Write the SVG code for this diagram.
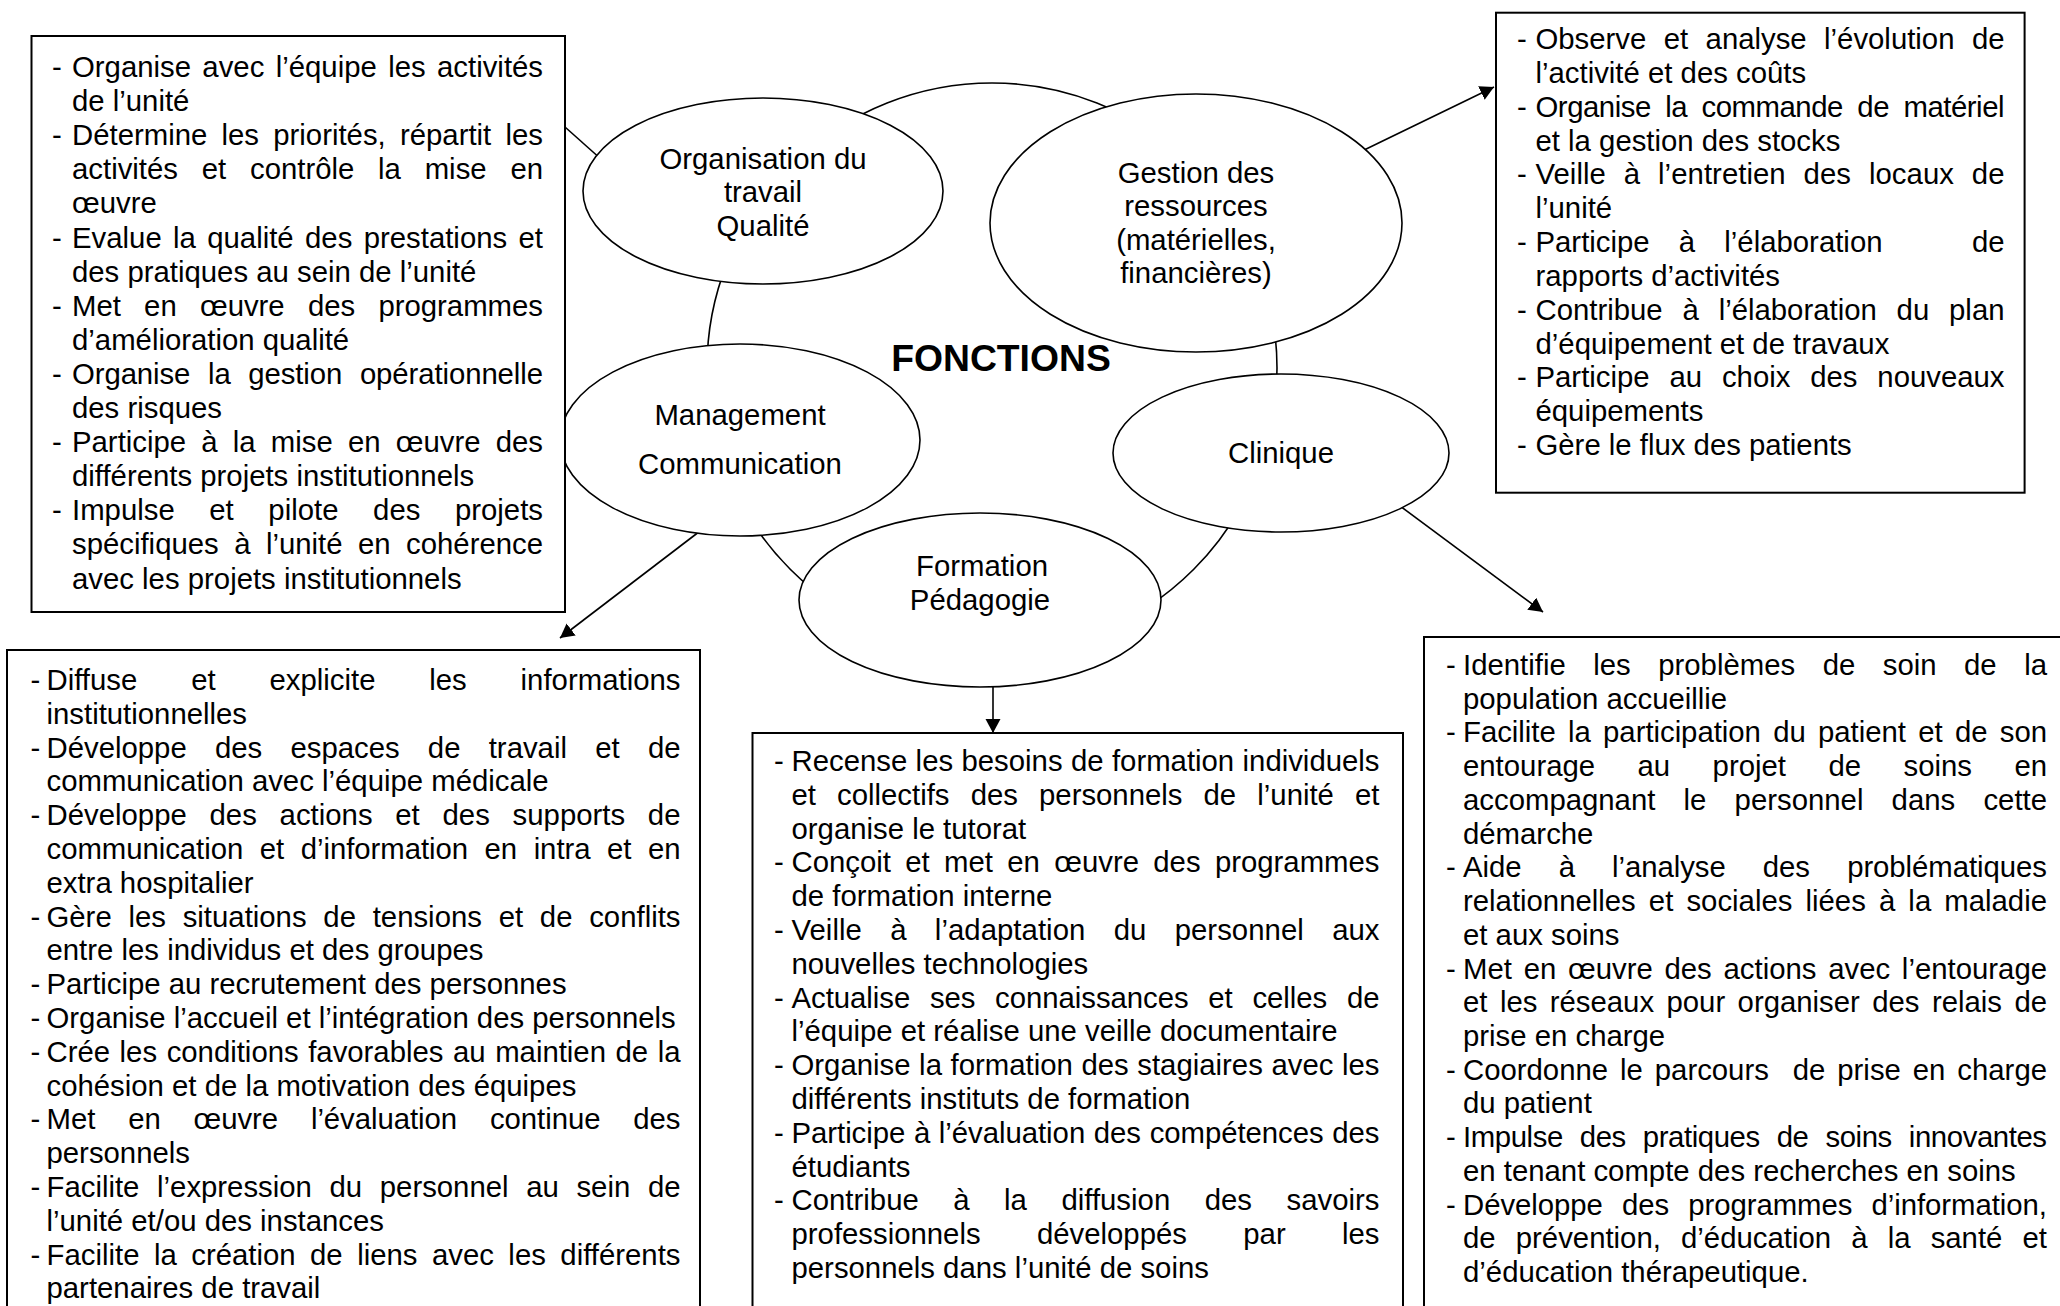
<svg xmlns="http://www.w3.org/2000/svg" width="2060" height="1306" viewBox="0 0 2060 1306">
<defs>
<style>
.t{font-family:"Liberation Sans",Arial,sans-serif;font-size:29.33px;fill:#000}
.m{text-anchor:middle}
.e{text-anchor:end}
.f{font-family:"Liberation Sans",Arial,sans-serif;font-weight:bold;font-size:37.3px;fill:#000;text-anchor:middle}
.box{fill:#fff;stroke:#000;stroke-width:2}
.ell{fill:#fff;stroke:#000;stroke-width:1.6}
.con{stroke:#000;stroke-width:1.6;fill:none}
</style>
<marker id="ah" markerUnits="userSpaceOnUse" markerWidth="16" markerHeight="16" refX="14" refY="7.5" orient="auto">
<path d="M0,0 L14,7.5 L0,15 z" fill="#000"/>
</marker>
</defs>
<rect width="2060" height="1306" fill="#fff"/>
<g id="fonctions">
<circle cx="992" cy="368" r="285" class="con"/>
<text class="f" x="1001" y="371">FONCTIONS</text>
</g>
<g id="connectors">
<line class="con" x1="565" y1="127" x2="602" y2="160"/>
<line class="con" x1="1360" y1="152" x2="1494" y2="87" marker-end="url(#ah)"/>
<line class="con" x1="704" y1="528" x2="560" y2="638" marker-end="url(#ah)"/>
<line class="con" x1="993" y1="680" x2="993" y2="733" marker-end="url(#ah)"/>
<line class="con" x1="1396" y1="503" x2="1543" y2="612" marker-end="url(#ah)"/>
</g>
<g id="node-organisation">
<ellipse class="ell" cx="763" cy="191" rx="180" ry="93"/>
<text class="t m" x="763" y="169">Organisation du</text>
<text class="t m" x="763" y="202">travail</text>
<text class="t m" x="763" y="236">Qualité</text>
</g>
<g id="node-gestion">
<ellipse class="ell" cx="1196" cy="223" rx="206" ry="129"/>
<text class="t m" x="1196" y="183">Gestion des</text>
<text class="t m" x="1196" y="216">ressources</text>
<text class="t m" x="1196" y="250">(matérielles,</text>
<text class="t m" x="1196" y="283">financières)</text>
</g>
<g id="node-management">
<ellipse class="ell" cx="740" cy="440" rx="180" ry="96"/>
<text class="t m" x="740" y="425">Management</text>
<text class="t m" x="740" y="474">Communication</text>
</g>
<g id="node-clinique">
<ellipse class="ell" cx="1281" cy="453" rx="168" ry="79"/>
<text class="t m" x="1281" y="463">Clinique</text>
</g>
<g id="node-formation">
<ellipse class="ell" cx="980" cy="600" rx="181" ry="87"/>
<text class="t m" x="982" y="576">Formation</text>
<text class="t m" x="980" y="610">Pédagogie</text>
</g>
<g id="box-organisation">
<rect class="box" x="31.5" y="36" width="533.5" height="576"/>
<text class="t" x="52" y="77">-</text>
<text class="t" x="72" y="77" textLength="471" lengthAdjust="spacing" word-spacing="3.25">Organise avec l’équipe les activités</text>
<text class="t" x="72" y="111.1">de l’unité</text>
<text class="t" x="52" y="145.2">-</text>
<text class="t" x="72" y="145.2" textLength="471" lengthAdjust="spacing" word-spacing="6.1">Détermine les priorités, répartit les</text>
<text class="t" x="72" y="179.3" textLength="471" lengthAdjust="spacing" word-spacing="15.6">activités et contrôle la mise en</text>
<text class="t" x="72" y="213.4">œuvre</text>
<text class="t" x="52" y="247.5">-</text>
<text class="t" x="72" y="247.5" textLength="471" lengthAdjust="spacing" word-spacing="3.2">Evalue la qualité des prestations et</text>
<text class="t" x="72" y="281.6">des pratiques au sein de l’unité</text>
<text class="t" x="52" y="315.7">-</text>
<text class="t" x="72" y="315.7" textLength="471" lengthAdjust="spacing" word-spacing="15.1">Met en œuvre des programmes</text>
<text class="t" x="72" y="349.8">d’amélioration qualité</text>
<text class="t" x="52" y="383.9">-</text>
<text class="t" x="72" y="383.9" textLength="471" lengthAdjust="spacing" word-spacing="9.6">Organise la gestion opérationnelle</text>
<text class="t" x="72" y="418">des risques</text>
<text class="t" x="52" y="452.1">-</text>
<text class="t" x="72" y="452.1" textLength="471" lengthAdjust="spacing" word-spacing="7.05">Participe à la mise en œuvre des</text>
<text class="t" x="72" y="486.2">différents projets institutionnels</text>
<text class="t" x="52" y="520.3">-</text>
<text class="t" x="72" y="520.3" textLength="471" lengthAdjust="spacing" word-spacing="26.45">Impulse et pilote des projets</text>
<text class="t" x="72" y="554.4" textLength="471" lengthAdjust="spacing" word-spacing="7.3">spécifiques à l’unité en cohérence</text>
<text class="t" x="72" y="588.5">avec les projets institutionnels</text>
</g>
<g id="box-gestion">
<rect class="box" x="1496" y="12.7" width="528.6" height="480"/>
<text class="t" x="1517" y="49">-</text>
<text class="t" x="1535.5" y="49" textLength="469" lengthAdjust="spacing" word-spacing="9.25">Observe et analyse l’évolution de</text>
<text class="t" x="1535.5" y="82.8">l’activité et des coûts</text>
<text class="t" x="1517" y="116.7">-</text>
<text class="t" x="1535.5" y="116.7" textLength="469" lengthAdjust="spacing" word-spacing="6.8">Organise la commande de matériel</text>
<text class="t" x="1535.5" y="150.5">et la gestion des stocks</text>
<text class="t" x="1517" y="184.3">-</text>
<text class="t" x="1535.5" y="184.3" textLength="469" lengthAdjust="spacing" word-spacing="9.7">Veille à l’entretien des locaux de</text>
<text class="t" x="1535.5" y="218.2">l’unité</text>
<text class="t" x="1517" y="252">-</text>
<text class="t" x="1535.5" y="252" textLength="347" lengthAdjust="spacing" word-spacing="21">Participe à l’élaboration</text>
<text class="t e" x="2004.5" y="252">de</text>
<text class="t" x="1535.5" y="285.8">rapports d’activités</text>
<text class="t" x="1517" y="319.6">-</text>
<text class="t" x="1535.5" y="319.6" textLength="469" lengthAdjust="spacing" word-spacing="11.7">Contribue à l’élaboration du plan</text>
<text class="t" x="1535.5" y="353.5">d’équipement et de travaux</text>
<text class="t" x="1517" y="387.3">-</text>
<text class="t" x="1535.5" y="387.3" textLength="469" lengthAdjust="spacing" word-spacing="11.7">Participe au choix des nouveaux</text>
<text class="t" x="1535.5" y="421.1">équipements</text>
<text class="t" x="1517" y="455">-</text>
<text class="t" x="1535.5" y="455">Gère le flux des patients</text>
</g>
<g id="box-management">
<rect class="box" x="7" y="650" width="693" height="700"/>
<text class="t" x="30.5" y="690">-</text>
<text class="t" x="46.5" y="690" textLength="634" lengthAdjust="spacing" word-spacing="45.6">Diffuse et explicite les informations</text>
<text class="t" x="46.5" y="723.8">institutionnelles</text>
<text class="t" x="30.5" y="757.6">-</text>
<text class="t" x="46.5" y="757.6" textLength="634" lengthAdjust="spacing" word-spacing="20.1">Développe des espaces de travail et de</text>
<text class="t" x="46.5" y="791.4">communication avec l’équipe médicale</text>
<text class="t" x="30.5" y="825.2">-</text>
<text class="t" x="46.5" y="825.2" textLength="634" lengthAdjust="spacing" word-spacing="14.6">Développe des actions et des supports de</text>
<text class="t" x="46.5" y="859" textLength="634" lengthAdjust="spacing" word-spacing="8.4">communication et d’information en intra et en</text>
<text class="t" x="46.5" y="892.8">extra hospitalier</text>
<text class="t" x="30.5" y="926.6">-</text>
<text class="t" x="46.5" y="926.6" textLength="634" lengthAdjust="spacing" word-spacing="8.6">Gère les situations de tensions et de conflits</text>
<text class="t" x="46.5" y="960.4">entre les individus et des groupes</text>
<text class="t" x="30.5" y="994.2">-</text>
<text class="t" x="46.5" y="994.2">Participe au recrutement des personnes</text>
<text class="t" x="30.5" y="1028">-</text>
<text class="t" x="46.5" y="1028">Organise l’accueil et l’intégration des personnels</text>
<text class="t" x="30.5" y="1061.8">-</text>
<text class="t" x="46.5" y="1061.8" textLength="634" lengthAdjust="spacing" word-spacing="1.4">Crée les conditions favorables au maintien de la</text>
<text class="t" x="46.5" y="1095.6">cohésion et de la motivation des équipes</text>
<text class="t" x="30.5" y="1129.4">-</text>
<text class="t" x="46.5" y="1129.4" textLength="634" lengthAdjust="spacing" word-spacing="24.8">Met en œuvre l’évaluation continue des</text>
<text class="t" x="46.5" y="1163.2">personnels</text>
<text class="t" x="30.5" y="1197">-</text>
<text class="t" x="46.5" y="1197" textLength="634" lengthAdjust="spacing" word-spacing="9.5">Facilite l’expression du personnel au sein de</text>
<text class="t" x="46.5" y="1230.8">l’unité et/ou des instances</text>
<text class="t" x="30.5" y="1264.6">-</text>
<text class="t" x="46.5" y="1264.6" textLength="634" lengthAdjust="spacing" word-spacing="6.3">Facilite la création de liens avec les différents</text>
<text class="t" x="46.5" y="1298.4">partenaires de travail</text>
</g>
<g id="box-formation">
<rect class="box" x="752.5" y="733" width="650.5" height="620"/>
<text class="t" x="774" y="771">-</text>
<text class="t" x="791.5" y="771" textLength="588" lengthAdjust="spacing" word-spacing="0.24">Recense les besoins de formation individuels</text>
<text class="t" x="791.5" y="804.8" textLength="588" lengthAdjust="spacing" word-spacing="13">et collectifs des personnels de l’unité et</text>
<text class="t" x="791.5" y="838.6">organise le tutorat</text>
<text class="t" x="774" y="872.4">-</text>
<text class="t" x="791.5" y="872.4" textLength="588" lengthAdjust="spacing" word-spacing="6.2">Conçoit et met en œuvre des programmes</text>
<text class="t" x="791.5" y="906.2">de formation interne</text>
<text class="t" x="774" y="940">-</text>
<text class="t" x="791.5" y="940" textLength="588" lengthAdjust="spacing" word-spacing="20.1">Veille à l’adaptation du personnel aux</text>
<text class="t" x="791.5" y="973.8">nouvelles technologies</text>
<text class="t" x="774" y="1007.6">-</text>
<text class="t" x="791.5" y="1007.6" textLength="588" lengthAdjust="spacing" word-spacing="11.6">Actualise ses connaissances et celles de</text>
<text class="t" x="791.5" y="1041.4">l’équipe et réalise une veille documentaire</text>
<text class="t" x="774" y="1075.2">-</text>
<text class="t" x="791.5" y="1075.2" textLength="588" lengthAdjust="spacing" word-spacing="0.47">Organise la formation des stagiaires avec les</text>
<text class="t" x="791.5" y="1109">différents instituts de formation</text>
<text class="t" x="774" y="1142.8">-</text>
<text class="t" x="791.5" y="1142.8" textLength="588" lengthAdjust="spacing" word-spacing="0.56">Participe à l’évaluation des compétences des</text>
<text class="t" x="791.5" y="1176.6">étudiants</text>
<text class="t" x="774" y="1210.4">-</text>
<text class="t" x="791.5" y="1210.4" textLength="588" lengthAdjust="spacing" word-spacing="26.3">Contribue à la diffusion des savoirs</text>
<text class="t" x="791.5" y="1244.2" textLength="588" lengthAdjust="spacing" word-spacing="48.2">professionnels développés par les</text>
<text class="t" x="791.5" y="1278">personnels dans l’unité de soins</text>
</g>
<g id="box-clinique">
<rect class="box" x="1424" y="637" width="700" height="720"/>
<text class="t" x="1446" y="675">-</text>
<text class="t" x="1463" y="675" textLength="584" lengthAdjust="spacing" word-spacing="19.35">Identifie les problèmes de soin de la</text>
<text class="t" x="1463" y="708.7">population accueillie</text>
<text class="t" x="1446" y="742.4">-</text>
<text class="t" x="1463" y="742.4" textLength="584" lengthAdjust="spacing" word-spacing="4.2">Facilite la participation du patient et de son</text>
<text class="t" x="1463" y="776.2" textLength="584" lengthAdjust="spacing" word-spacing="34.3">entourage au projet de soins en</text>
<text class="t" x="1463" y="809.9" textLength="584" lengthAdjust="spacing" word-spacing="20.05">accompagnant le personnel dans cette</text>
<text class="t" x="1463" y="843.6">démarche</text>
<text class="t" x="1446" y="877.3">-</text>
<text class="t" x="1463" y="877.3" textLength="584" lengthAdjust="spacing" word-spacing="29.05">Aide à l’analyse des problématiques</text>
<text class="t" x="1463" y="911" textLength="584" lengthAdjust="spacing" word-spacing="5">relationnelles et sociales liées à la maladie</text>
<text class="t" x="1463" y="944.8">et aux soins</text>
<text class="t" x="1446" y="978.5">-</text>
<text class="t" x="1463" y="978.5" textLength="584" lengthAdjust="spacing" word-spacing="3.6">Met en œuvre des actions avec l’entourage</text>
<text class="t" x="1463" y="1012.2" textLength="584" lengthAdjust="spacing" word-spacing="4.3">et les réseaux pour organiser des relais de</text>
<text class="t" x="1463" y="1045.9">prise en charge</text>
<text class="t" x="1446" y="1079.6">-</text>
<text class="t" x="1463" y="1079.6" textLength="584" lengthAdjust="spacing" word-spacing="3.8" style="white-space:pre">Coordonne le parcours  de prise en charge</text>
<text class="t" x="1463" y="1113.4">du patient</text>
<text class="t" x="1446" y="1147.1">-</text>
<text class="t" x="1463" y="1147.1" textLength="584" lengthAdjust="spacing" word-spacing="9.2">Impulse des pratiques de soins innovantes</text>
<text class="t" x="1463" y="1180.8">en tenant compte des recherches en soins</text>
<text class="t" x="1446" y="1214.5">-</text>
<text class="t" x="1463" y="1214.5" textLength="584" lengthAdjust="spacing" word-spacing="11">Développe des programmes d’information,</text>
<text class="t" x="1463" y="1248.2" textLength="584" lengthAdjust="spacing" word-spacing="12">de prévention, d’éducation à la santé et</text>
<text class="t" x="1463" y="1282">d’éducation thérapeutique.</text>
</g>
</svg>
